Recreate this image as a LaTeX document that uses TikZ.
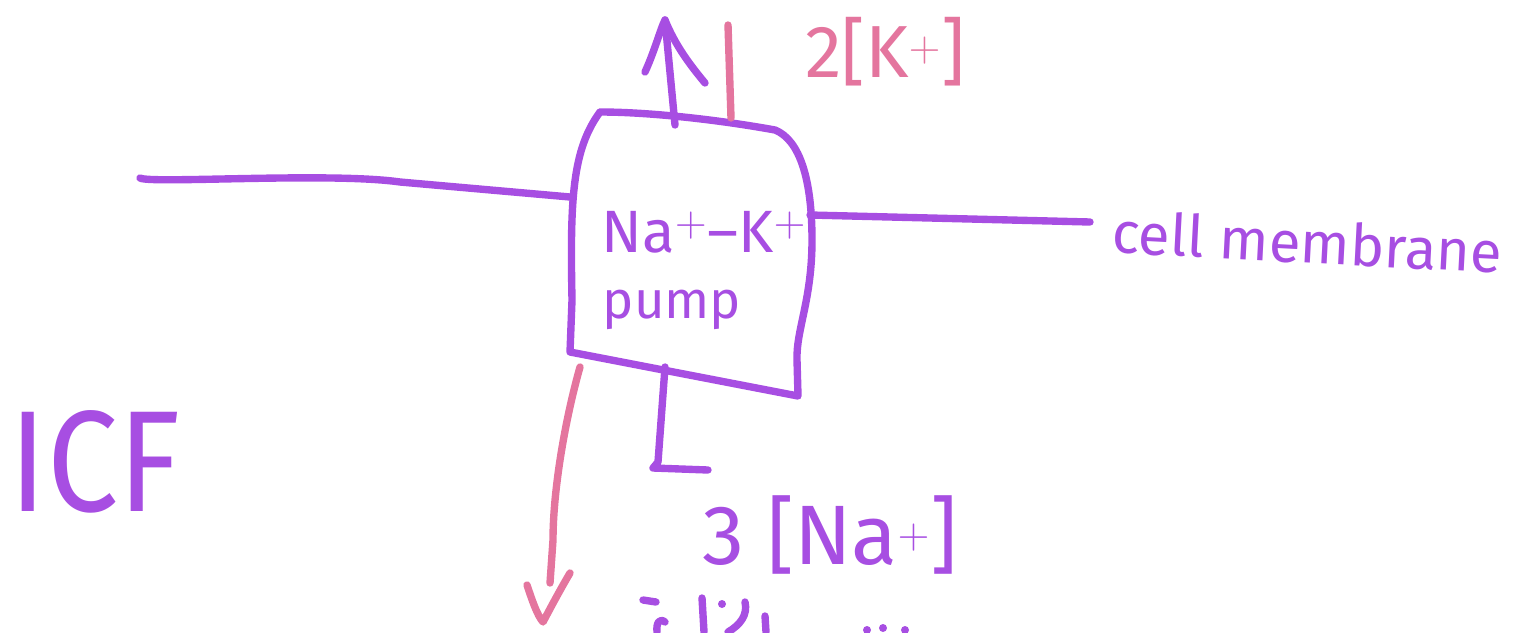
\documentclass[tikz,border=0pt]{standalone}
\usepackage{fontspec}
\setmainfont{Fira Sans}
\definecolor{hpurple}{RGB}{167,78,226}
\definecolor{hpink}{RGB}{228,117,158}
\begin{document}
\begin{tikzpicture}[x=0.02cm,y=-0.02cm,
  pen/.style={line width=4.2pt, line cap=round, line join=round, hpurple},
  pinkpen/.style={line width=4.2pt, line cap=round, line join=round, hpink},
  lbl/.style={text=hpurple, inner sep=0pt, font=\fontsize{34}{36}\selectfont},
  pinklbl/.style={text=hpink, inner sep=0pt, font=\fontsize{42}{44}\selectfont}]
\useasboundingbox (0,0) rectangle (1513,632);
% pump box
\coordinate (tl) at (600,112);
\coordinate (tr) at (775,130);
\coordinate (br) at (798,396);
\coordinate (bl) at (570,352);
\draw[pen] (tl) .. controls (650,112) and (720,120) .. (tr)
  .. controls (800,140) and (812,180) .. (812,240)
  .. controls (812,300) and (796,330) .. (797,360) -- (br)
  -- (bl) -- (572,300) .. controls (570,200) and (572,150) .. (tl);
\node[lbl] (pump1) at (704,232) {Na$^+$–K$^+$};
\node[lbl, font=\fontsize{30}{32}\selectfont, anchor=base] (pump2) at (672,318) {pump};
% membrane
\coordinate (ml) at (140,178);
\coordinate (mlb) at (570,197);
\coordinate (mrb) at (810,215);
\coordinate (mr) at (1090,222);
\draw[pen] (ml) .. controls (150,184) and (330,172) .. (400,182) -- (mlb);
\draw[pen] (mrb) -- (mr);
\node[lbl, font=\fontsize{33}{35}\selectfont, anchor=base, rotate=-3] (cm) at (1306,263) {cell membrane};
% up arrow (purple) and pink tick
\coordinate (ua0) at (675,125);
\coordinate (ua1) at (665,20);
\draw[pen] (ua0) -- (ua1);
\draw[pen] (645,72) .. controls (655,50) and (660,30) .. (ua1) .. controls (675,45) and (690,65) .. (705,83);
\coordinate (pk0) at (728,25);
\coordinate (pk1) at (731,118);
\draw[pinkpen] (pk0) -- (pk1);
\node[pinklbl] (k) at (885,52) {2[K$^+$]};
% pink down arrow
\coordinate (da0) at (580,367);
\coordinate (da1) at (543,622);
\draw[pinkpen] (da0) .. controls (565,420) and (553,490) .. (553,540) -- (550,583);
\draw[pinkpen] (527,585) .. controls (532,600) and (537,615) .. (da1) .. controls (552,605) and (560,590) .. (570,573);
% na bracket line
\coordinate (nb0) at (665,367);
\coordinate (nb1) at (708,470);
\draw[pen] (nb0) -- (658,462) -- (653,468) -- (nb1);
\node[lbl, font=\fontsize{48}{50}\selectfont] (na) at (830,535) {3 [Na$^+$]};
% ICF
\node[lbl, font=\fontsize{82}{82}\selectfont, xscale=0.88] (icf) at (95,462) {ICF};
% cut-off strokes at bottom
\draw[pen] (643,600) -- (656,602);
\draw[pen] (657,632) .. controls (656,622) and (660,618) .. (665,622);
\draw[pen] (702,598) -- (704,632);
\fill[hpurple] (722,604) circle (4);
\draw[pen] (745,602) .. controls (748,615) and (740,625) .. (728,632);
\draw[pen] (765,616) -- (766,632);
\fill[hpurple] (867,630) circle (4);
\fill[hpurple] (883,628) circle (4);
\fill[hpurple] (905,630) circle (4);
\end{tikzpicture}
\end{document}
